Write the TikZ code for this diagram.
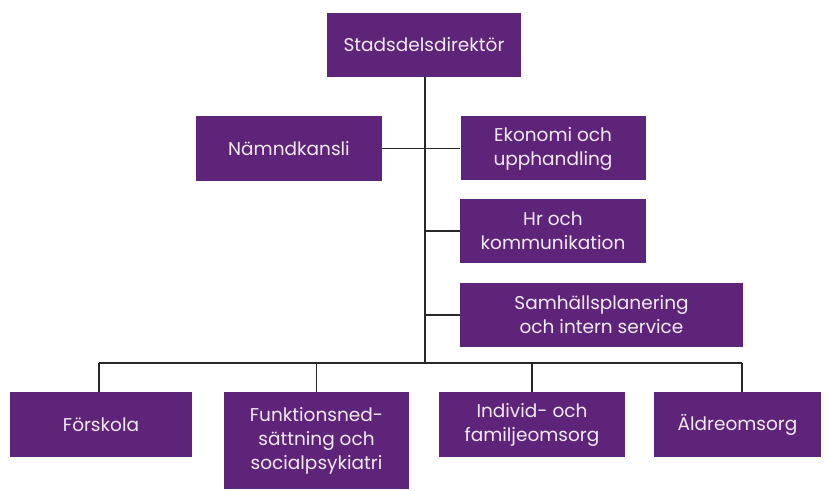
\documentclass[tikz,border=0pt]{standalone}
\usepackage{fontspec}
\setmainfont{Poppins}
\definecolor{orgpurple}{RGB}{94,36,121}
\definecolor{orgtext}{RGB}{242,234,246}
\definecolor{orgline}{RGB}{40,40,40}
\begin{document}
\begin{tikzpicture}[x=1pt,y=1pt,
  unit/.style={fill=orgpurple,draw=none,text=orgtext,align=center,inner sep=0pt,
    font=\fontsize{18.5}{24}\selectfont},
  link/.style={draw=orgline,line width=1.3pt}]
\useasboundingbox (0,0) rectangle (830,490);
\node[unit,minimum width=194,minimum height=64] (top) at (424,445) {Stadsdelsdirektör};
\node[unit,minimum width=186,minimum height=65] (namnd) at (289,341.5) {Nämndkansli};
\node[unit,minimum width=185,minimum height=64] (ekon) at (553,341.5) {Ekonomi och\\upphandling};
\node[unit,minimum width=186,minimum height=64] (hr) at (553,259) {Hr och\\kommunikation};
\node[unit,minimum width=283,minimum height=64] (samh) at (601.5,175) {Samhällsplanering\\och intern service};
\node[unit,minimum width=182,minimum height=65] (forsk) at (101,65.5) {Förskola};
\node[unit,minimum width=185,minimum height=97] (funk) at (316.5,49.5) {Funktionsned-\\sättning och\\socialpsykiatri};
\node[unit,minimum width=186,minimum height=65] (indiv) at (532,65.5) {Individ- och\\familjeomsorg};
\node[unit,minimum width=167,minimum height=65] (aldre) at (737.5,65.5) {Äldreomsorg};
\coordinate (busmid) at ([xshift=1pt]top.south |- 0,127);
\coordinate (busleft) at ([xshift=-2pt]forsk.north |- busmid);
\coordinate (busright) at ([xshift=4.5pt]aldre.north |- busmid);
\draw[link] ([xshift=1pt]top.south) -- (busmid);
\draw[link] (namnd.east) -- (ekon.west);
\draw[link] (hr.west) -- (hr.west -| busmid);
\draw[link] (samh.west) -- (samh.west -| busmid);
\draw[link] (busleft) -- (busright);
\draw[link] (busleft) -- ([xshift=-2pt]forsk.north);
\draw[link] (funk.north |- busmid) -- (funk.north);
\draw[link] (indiv.north |- busmid) -- (indiv.north);
\draw[link] (busright) -- ([xshift=4.5pt]aldre.north);
\end{tikzpicture}
\end{document}
